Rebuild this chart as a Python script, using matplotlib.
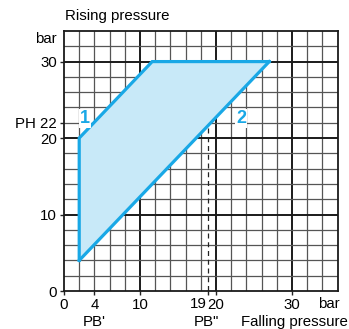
import matplotlib
matplotlib.use("Agg")
import matplotlib.pyplot as plt
import numpy as np

plt.rcParams['font.family'] = ['Liberation Sans', 'DejaVu Sans']

# Data
region_x = [2, 2, 11.6, 27]
region_y = [4, 20, 30, 30]
line2_x = [2, 27]
line2_y = [4, 30]
pb1, pb2, ph = 4, 19, 22
x_ticks = [0, 4, 10, 19, 20, 30]
x_tick_labels = ["0", "4", "10", "", "20", "30"]
y_ticks = [0, 10, 20, 22, 30]
y_tick_labels = ["0", "10", "20", "PH 22", "30"]

line_color = "#19a8e6"
fill_color = "#c8e9f8"
FS = 10.8

fig = plt.figure(figsize=(3.49, 3.29), dpi=100)
ax = fig.add_axes([0.1834, 0.1155, 0.9676 - 0.1834, 0.9058 - 0.1155])
ax.set_xlim(0, 36)
ax.set_ylim(0, 34)

# grid
for v in np.arange(2, 36, 2):
    major = (v % 10 == 0)
    ax.axvline(v, color="#1a1a1a" if major else "#555555", lw=1.4 if major else 0.9, zorder=1)
for v in np.arange(2, 34, 2):
    major = (v % 10 == 0)
    ax.axhline(v, color="#1a1a1a" if major else "#555555", lw=1.4 if major else 0.9, zorder=1)

# fill polygon
ax.fill(region_x + line2_x[::-1], region_y + line2_y[::-1], color=fill_color, zorder=2, lw=0)
ax.plot(region_x, region_y, color=line_color, lw=2.3, zorder=4, solid_joinstyle='miter')
ax.plot(line2_x, line2_y, color=line_color, lw=2.3, zorder=4)

# dashed line at PB"
ax.plot([pb2, pb2], [21.3, -0.4], color="#222222", lw=0.9, ls=(0, (4, 3)), zorder=3, clip_on=False)

# labels 1 and 2
ax.text(2.75, 22.6, "1", color=line_color, fontsize=13, fontweight='bold', ha='center', va='center',
        zorder=5, bbox=dict(facecolor='white', edgecolor='none', pad=0.8))
ax.text(23.3, 22.6, "2", color=line_color, fontsize=13, fontweight='bold', ha='center', va='center',
        zorder=5, bbox=dict(facecolor='white', edgecolor='none', pad=0.8))

for s in ax.spines.values():
    s.set_color("#1a1a1a")
    s.set_linewidth(1.3)
    s.set_zorder(6)

ax.set_xticks(x_ticks)
ax.set_xticklabels(x_tick_labels, fontsize=FS)
ax.set_yticks(y_ticks)
ax.set_yticklabels(y_tick_labels, fontsize=FS)
ax.tick_params(length=3, width=1, color="#222222", pad=2)

# extra texts
ax.text(18.8, -0.75, "19", fontsize=FS, ha='right', va='top', clip_on=False)
ax.text(34.9, -0.75, "bar", fontsize=FS, ha='center', va='top', clip_on=False)
ax.text(-0.9, 32.9, "bar", fontsize=FS, ha='right', va='center', clip_on=False)
ax.text(pb1, -3.1, "PB'", fontsize=FS, ha='center', va='top', clip_on=False)
ax.text(pb2 - 0.3, -3.1, 'PB"', fontsize=FS, ha='center', va='top', clip_on=False)
ax.text(23.3, -3.1, "Falling pressure", fontsize=FS, ha='left', va='top', clip_on=False)
ax.text(0.1, 35.0, "Rising pressure", fontsize=FS, ha='left', va='bottom', clip_on=False)

fig.savefig("out.png", dpi=100)
